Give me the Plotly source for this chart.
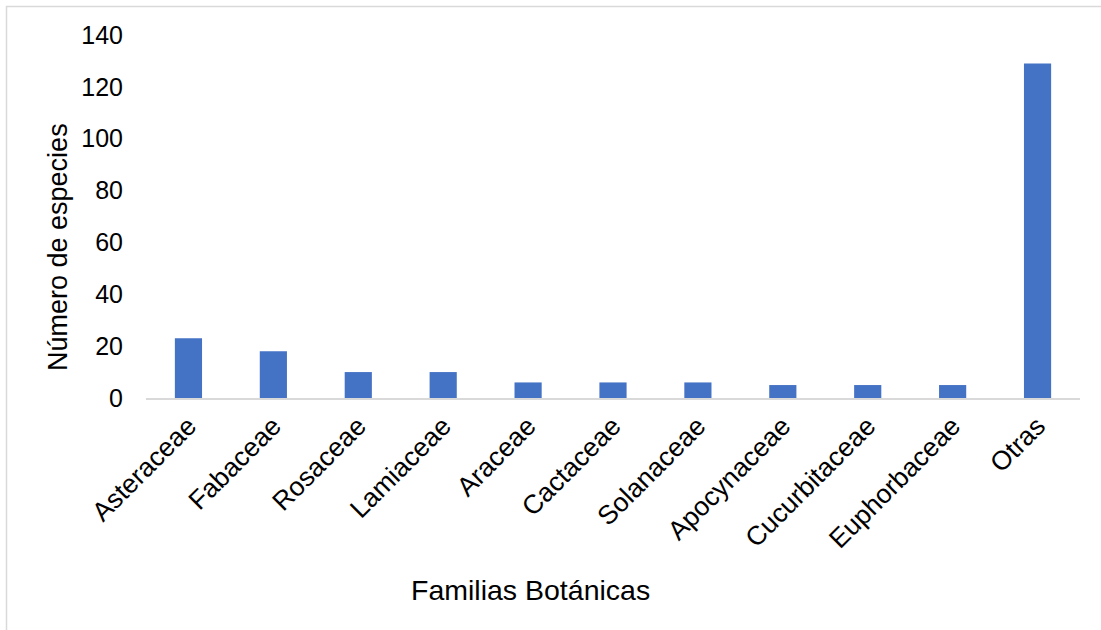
import plotly.graph_objects as go

# Species count per botanical family
familias = ["Asteraceae", "Fabaceae", "Rosaceae", "Lamiaceae", "Araceae",
            "Cactaceae", "Solanaceae", "Apocynaceae", "Cucurbitaceae",
            "Euphorbaceae", "Otras"]
especies = [23, 18, 10, 10, 6, 6, 6, 5, 5, 5, 129]

y_ticks = [0, 20, 40, 60, 80, 100, 120, 140]

FONT = "Liberation Sans, Arial, sans-serif"

fig = go.Figure(
    go.Bar(
        x=familias,
        y=especies,
        marker=dict(color="#4472C4", line=dict(width=0)),
    )
)

fig.update_layout(
    width=1101,
    height=630,
    margin=dict(l=146, r=21, t=35, b=232),
    paper_bgcolor="white",
    plot_bgcolor="white",
    bargap=0.68,
    showlegend=False,
    font=dict(family=FONT, size=24, color="#000000"),
)

fig.update_xaxes(
    tickangle=-45,
    showline=True,
    linecolor="#d9d9d9",
    linewidth=2,
    showgrid=False,
    ticks="",
    tickfont=dict(size=26.5),
)

fig.update_yaxes(
    range=[0, 140],
    tickvals=y_ticks,
    showline=False,
    showgrid=False,
    zeroline=False,
    ticks="",
    ticklabelstandoff=22,
    tickfont=dict(size=25),
)

# Axis titles
fig.add_annotation(
    text="Número de especies", xref="paper", yref="paper",
    x=(58 - 146) / 934, y=(398 - 247) / 363, textangle=-90,
    showarrow=False, font=dict(size=27), xanchor="center", yanchor="middle",
)
fig.add_annotation(
    text="Familias Botánicas", xref="paper", yref="paper",
    x=(530 - 146) / 934, y=(398 - 590) / 363,
    showarrow=False, font=dict(size=28.5), xanchor="center", yanchor="middle",
)

# Chart frame
fig.add_shape(
    type="rect", xref="paper", yref="paper",
    x0=(6.5 - 146) / 934, x1=1.2, y0=-1.0, y1=(398 - 6.5) / 363,
    line=dict(color="#d9d9d9", width=1.5), fillcolor="rgba(0,0,0,0)",
)

fig.write_html("out.html")
